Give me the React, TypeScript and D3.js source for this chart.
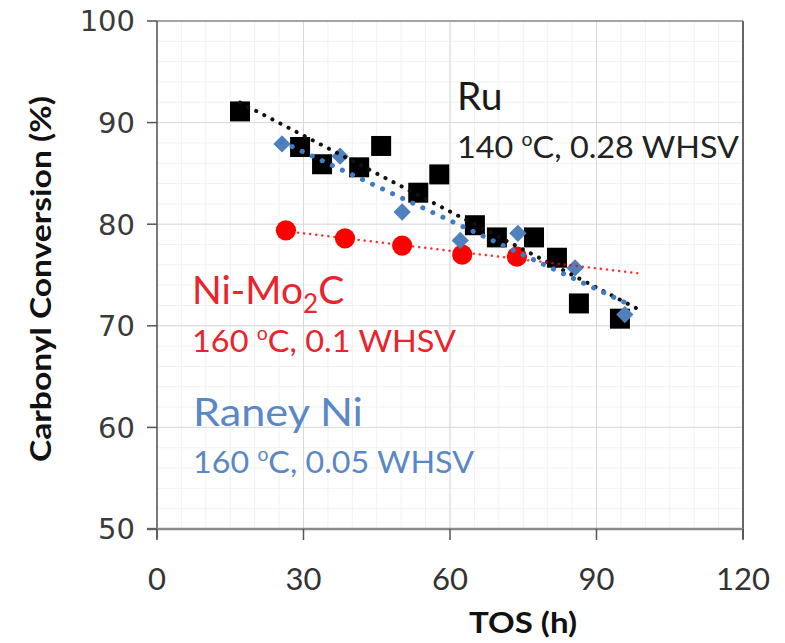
import * as d3 from 'd3';

// TOS (h) / conversion (%)
const ruTOS = [17.0, 29.3, 33.8, 41.4, 45.9, 53.5, 57.8, 65.1, 69.6, 77.2, 81.9, 86.4, 94.8];
const ruConv = [91.1, 87.6, 85.9, 85.6, 87.7, 83.1, 84.9, 79.9, 78.7, 78.7, 76.7, 72.2, 70.7];
const niMoTOS = [26.4, 38.5, 50.2, 62.5, 73.7];
const niMoConv = [79.4, 78.6, 77.9, 77.0, 76.8];
const raneyTOS = [25.6, 37.5, 50.2, 62.1, 73.9, 85.6, 95.8];
const raneyConv = [87.9, 86.7, 81.2, 78.4, 79.1, 75.7, 71.1];

// where each dotted trend line stops (h)
const trendEnds = { ru: 99, niMo: 99, raney: 96.5 };

const xTicks = [0, 30, 60, 90, 120];
const yTicks = [50, 60, 70, 80, 90, 100];
const xMinor = d3.range(0, 121, 5);
const yMinor = d3.range(50, 101, 2);

const W = 785,
  H = 643;
const PLOT = { left: 157, right: 743, top: 21, bottom: 529 };

const RED = '#ff0000';
const RED_TEXT = '#e8242c';
const BLUE = '#4f81bd';
const BLUE_TEXT = '#5b88c4';
const FONT = 'Lato, "Open Sans", sans-serif';

// least squares fit, like an Excel linear trendline
function fit(xs: number[], ys: number[]) {
  const mx = d3.mean(xs)!;
  const my = d3.mean(ys)!;
  const sxy = d3.sum(xs, (x, i) => (x - mx) * (ys[i] - my));
  const sxx = d3.sum(xs, (x) => (x - mx) * (x - mx));
  const slope = sxy / sxx;
  return (x: number) => my + slope * (x - mx);
}

export default function App() {
  const x = d3.scaleLinear().domain([0, 120]).range([PLOT.left, PLOT.right]);
  const y = d3.scaleLinear().domain([50, 100]).range([PLOT.bottom, PLOT.top]);

  const square = d3.symbol(d3.symbolSquare, 400)()!;
  const circle = d3.symbol(d3.symbolCircle, 320)()!;
  const diamond = d3.symbol(d3.symbolSquare, 150)()!;

  const line = d3
    .line<[number, number]>()
    .x((d) => x(d[0]))
    .y((d) => y(d[1]));

  const trend = (xs: number[], ys: number[], end: number) => {
    const f = fit(xs, ys);
    const start = d3.min(xs)!;
    return line([
      [start, f(start)],
      [end, f(end)],
    ]);
  };

  const sup = (t: string) => (
    <>
      <tspan fontSize="0.6em" dy={-12}>
        o
      </tspan>
      <tspan dy={12}>{t}</tspan>
    </>
  );

  return (
    <svg width={W} height={H} style={{ position: 'absolute', left: 0, top: 0, background: '#fff' }} fontFamily={FONT}>
      {/* grid */}
      {xMinor.map((v) => (
        <line key={'xm' + v} x1={x(v)} x2={x(v)} y1={PLOT.top} y2={PLOT.bottom} stroke="#f1f1f1" />
      ))}
      {yMinor.map((v) => (
        <line key={'ym' + v} x1={PLOT.left} x2={PLOT.right} y1={y(v)} y2={y(v)} stroke="#f1f1f1" />
      ))}
      {xTicks.map((v) => (
        <line key={'xg' + v} x1={x(v)} x2={x(v)} y1={PLOT.top} y2={PLOT.bottom} stroke="#d9d9d9" />
      ))}
      {yTicks.map((v) => (
        <line key={'yg' + v} x1={PLOT.left} x2={PLOT.right} y1={y(v)} y2={y(v)} stroke="#d9d9d9" />
      ))}

      {/* frame + axes */}
      <line x1={PLOT.left} x2={PLOT.right} y1={PLOT.top} y2={PLOT.top} stroke="#8c8c8c" strokeWidth={1.5} />
      <line x1={PLOT.right} x2={PLOT.right} y1={PLOT.top} y2={PLOT.bottom + 10} stroke="#666" strokeWidth={2} />
      <line x1={PLOT.left} x2={PLOT.left} y1={PLOT.top} y2={PLOT.bottom + 10} stroke="#555" strokeWidth={1.5} />
      <line x1={PLOT.left - 10} x2={PLOT.right} y1={PLOT.bottom} y2={PLOT.bottom} stroke="#8a8a8a" strokeWidth={2.5} />
      {yTicks.map((v) => (
        <g key={'yt' + v}>
          <line x1={PLOT.left - 10} x2={PLOT.left} y1={y(v)} y2={y(v)} stroke="#555" strokeWidth={1.5} />
          <text x={135} y={y(v)} dy="0.36em" textAnchor="end" fontSize={29} fill="#3a3a3a" fontFamily='"DejaVu Sans", sans-serif'>
            {v}
          </text>
        </g>
      ))}
      {xTicks.map((v) => (
        <g key={'xt' + v}>
          <line x1={x(v)} x2={x(v)} y1={PLOT.bottom} y2={PLOT.bottom + 11} stroke="#555" strokeWidth={1.5} />
          <text x={x(v)} y={590} textAnchor="middle" fontSize={31} fill="#333">
            {v}
          </text>
        </g>
      ))}

      {/* axis titles */}
      <text
        transform={`translate(51,${(PLOT.top + PLOT.bottom) / 2 + 4}) rotate(-90)`}
        textAnchor="middle"
        fontWeight="bold"
        fontSize={28}
        fill="#111"
        textLength={366}
        lengthAdjust="spacingAndGlyphs"
      >
        Carbonyl Conversion (%)
      </text>
      <text x={523} y={633} textAnchor="middle" fontWeight="bold" fontSize={29} fill="#111" textLength={108} lengthAdjust="spacingAndGlyphs">
        TOS (h)
      </text>

      {/* markers */}
      {ruTOS.map((t, i) => (
        <path key={'ru' + i} d={square} transform={`translate(${x(t)},${y(ruConv[i])})`} fill="#000" />
      ))}
      {niMoTOS.map((t, i) => (
        <path key={'ni' + i} d={circle} transform={`translate(${x(t)},${y(niMoConv[i])})`} fill={RED} />
      ))}
      {raneyTOS.map((t, i) => (
        <path key={'ra' + i} d={diamond} transform={`translate(${x(t)},${y(raneyConv[i])}) rotate(45)`} fill={BLUE} />
      ))}

      {/* dotted trend lines */}
      <path d={trend(ruTOS, ruConv, trendEnds.ru)!} fill="none" stroke="#111" strokeWidth={4} strokeLinecap="round" strokeDasharray="0.1 9" />
      <path d={trend(niMoTOS, niMoConv, trendEnds.niMo)!} fill="none" stroke={RED} strokeOpacity={0.8} strokeWidth={2.5} strokeLinecap="round" strokeDasharray="0.1 6" />
      <path d={trend(raneyTOS, raneyConv, trendEnds.raney)!} fill="none" stroke="#3f7cc4" strokeWidth={5} strokeLinecap="round" strokeDasharray="0.1 11" />

      {/* annotations */}
      <text x={457} y={110} fontSize={39} fill="#1a1a1a">
        Ru
      </text>
      <text x={457} y={158} fontSize={31} fill="#222" textLength={282} lengthAdjust="spacingAndGlyphs">
        140 {sup('C, 0.28 WHSV')}
      </text>

      <text x={192} y={304} fontSize={39} fill={RED_TEXT}>
        Ni-Mo
        <tspan fontSize={26} dy={9}>
          2
        </tspan>
        <tspan dy={-9}>C</tspan>
      </text>
      <text x={192} y={352} fontSize={31} fill={RED_TEXT} textLength={264} lengthAdjust="spacingAndGlyphs">
        160 {sup('C, 0.1 WHSV')}
      </text>

      <text x={193} y={426} fontSize={39} fill={BLUE_TEXT} textLength={170} lengthAdjust="spacingAndGlyphs">
        Raney Ni
      </text>
      <text x={193} y={473} fontSize={31} fill={BLUE_TEXT} textLength={281} lengthAdjust="spacingAndGlyphs">
        160 {sup('C, 0.05 WHSV')}
      </text>
    </svg>
  );
}
